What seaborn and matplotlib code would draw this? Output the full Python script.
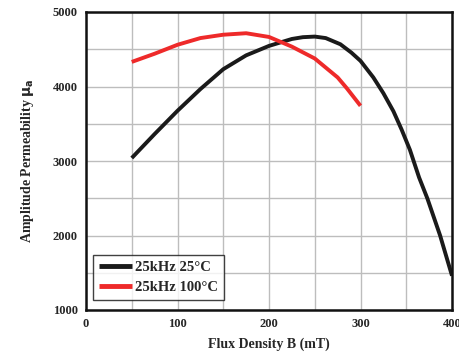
import matplotlib
matplotlib.use("Agg")
import matplotlib.pyplot as plt
import seaborn as sns
import pandas as pd

# Data
b_25c = [50, 75, 100, 125, 150, 175, 200, 225, 237, 250, 262, 278, 290, 300, 314, 325, 336, 345, 354, 364, 373, 387, 400]
mu_25c = [3040, 3362, 3674, 3965, 4232, 4418, 4545, 4638, 4662, 4670, 4650, 4567, 4455, 4344, 4122, 3910, 3667, 3420, 3150, 2780, 2500, 2000, 1460]
b_100c = [50, 75, 100, 125, 150, 175, 200, 225, 250, 275, 285, 300]
mu_100c = [4330, 4440, 4560, 4650, 4695, 4715, 4665, 4535, 4376, 4122, 3977, 3741]
series_names = ["25kHz 25\u00b0C", "25kHz 100\u00b0C"]
series_colors = ["#1a1a1a", "#ee2a2a"]
x_ticks = [0, 100, 200, 300, 400]
y_ticks = [1000, 2000, 3000, 4000, 5000]

df = pd.concat([
    pd.DataFrame({"B": b_25c, "mu": mu_25c, "series": series_names[0]}),
    pd.DataFrame({"B": b_100c, "mu": mu_100c, "series": series_names[1]}),
])

sns.set_theme(style="white")
plt.rcParams["font.family"] = ["Liberation Serif", "DejaVu Serif"]
plt.rcParams["font.weight"] = "bold"

fig = plt.figure(figsize=(4.59, 3.56), dpi=100)
ax = fig.add_axes([86 / 459, 1 - 310 / 356, (452 - 86) / 459, (310 - 12) / 356])

sns.lineplot(data=df, x="B", y="mu", hue="series", palette=dict(zip(series_names, series_colors)),
             linewidth=2.8, ax=ax, sort=False, legend=True)
for line in ax.get_lines():
    line.set_solid_joinstyle("round")
    line.set_solid_capstyle("butt")

ax.set_xlim(0, 400)
ax.set_ylim(1000, 5000)
ax.set_xticks(x_ticks)
ax.set_yticks(y_ticks)
ax.set_xticks(range(0, 401, 50), minor=True)
ax.set_yticks(range(1000, 5001, 500), minor=True)
ax.grid(True, which="both", color="#bdbdbd", linewidth=1.0)
ax.set_axisbelow(True)
ax.tick_params(which="both", length=0, labelsize=9, pad=6)
for lab in ax.get_xticklabels() + ax.get_yticklabels():
    lab.set_fontweight("bold")
for s in ax.spines.values():
    s.set_color("#111111")
    s.set_linewidth(1.8)

ax.set_xlabel("Flux Density B (mT)", fontsize=10, fontweight="bold", labelpad=5)
ax.set_ylabel("Amplitude Permeability $\\mathbf{\\mu_a}$", fontsize=10, fontweight="bold", labelpad=12)

leg = ax.legend(loc="lower left", bbox_to_anchor=(0.019, 0.034), borderaxespad=0, fontsize=10.5,
                frameon=True, fancybox=False, handlelength=2.3, borderpad=0.4, labelspacing=0.45,
                handletextpad=0.2)
leg.get_frame().set_edgecolor("#111111")
leg.get_frame().set_linewidth(1.0)
for line in leg.get_lines():
    line.set_linewidth(3.5)
for t in leg.get_texts():
    t.set_fontweight("bold")

fig.savefig("out.png", dpi=100)
